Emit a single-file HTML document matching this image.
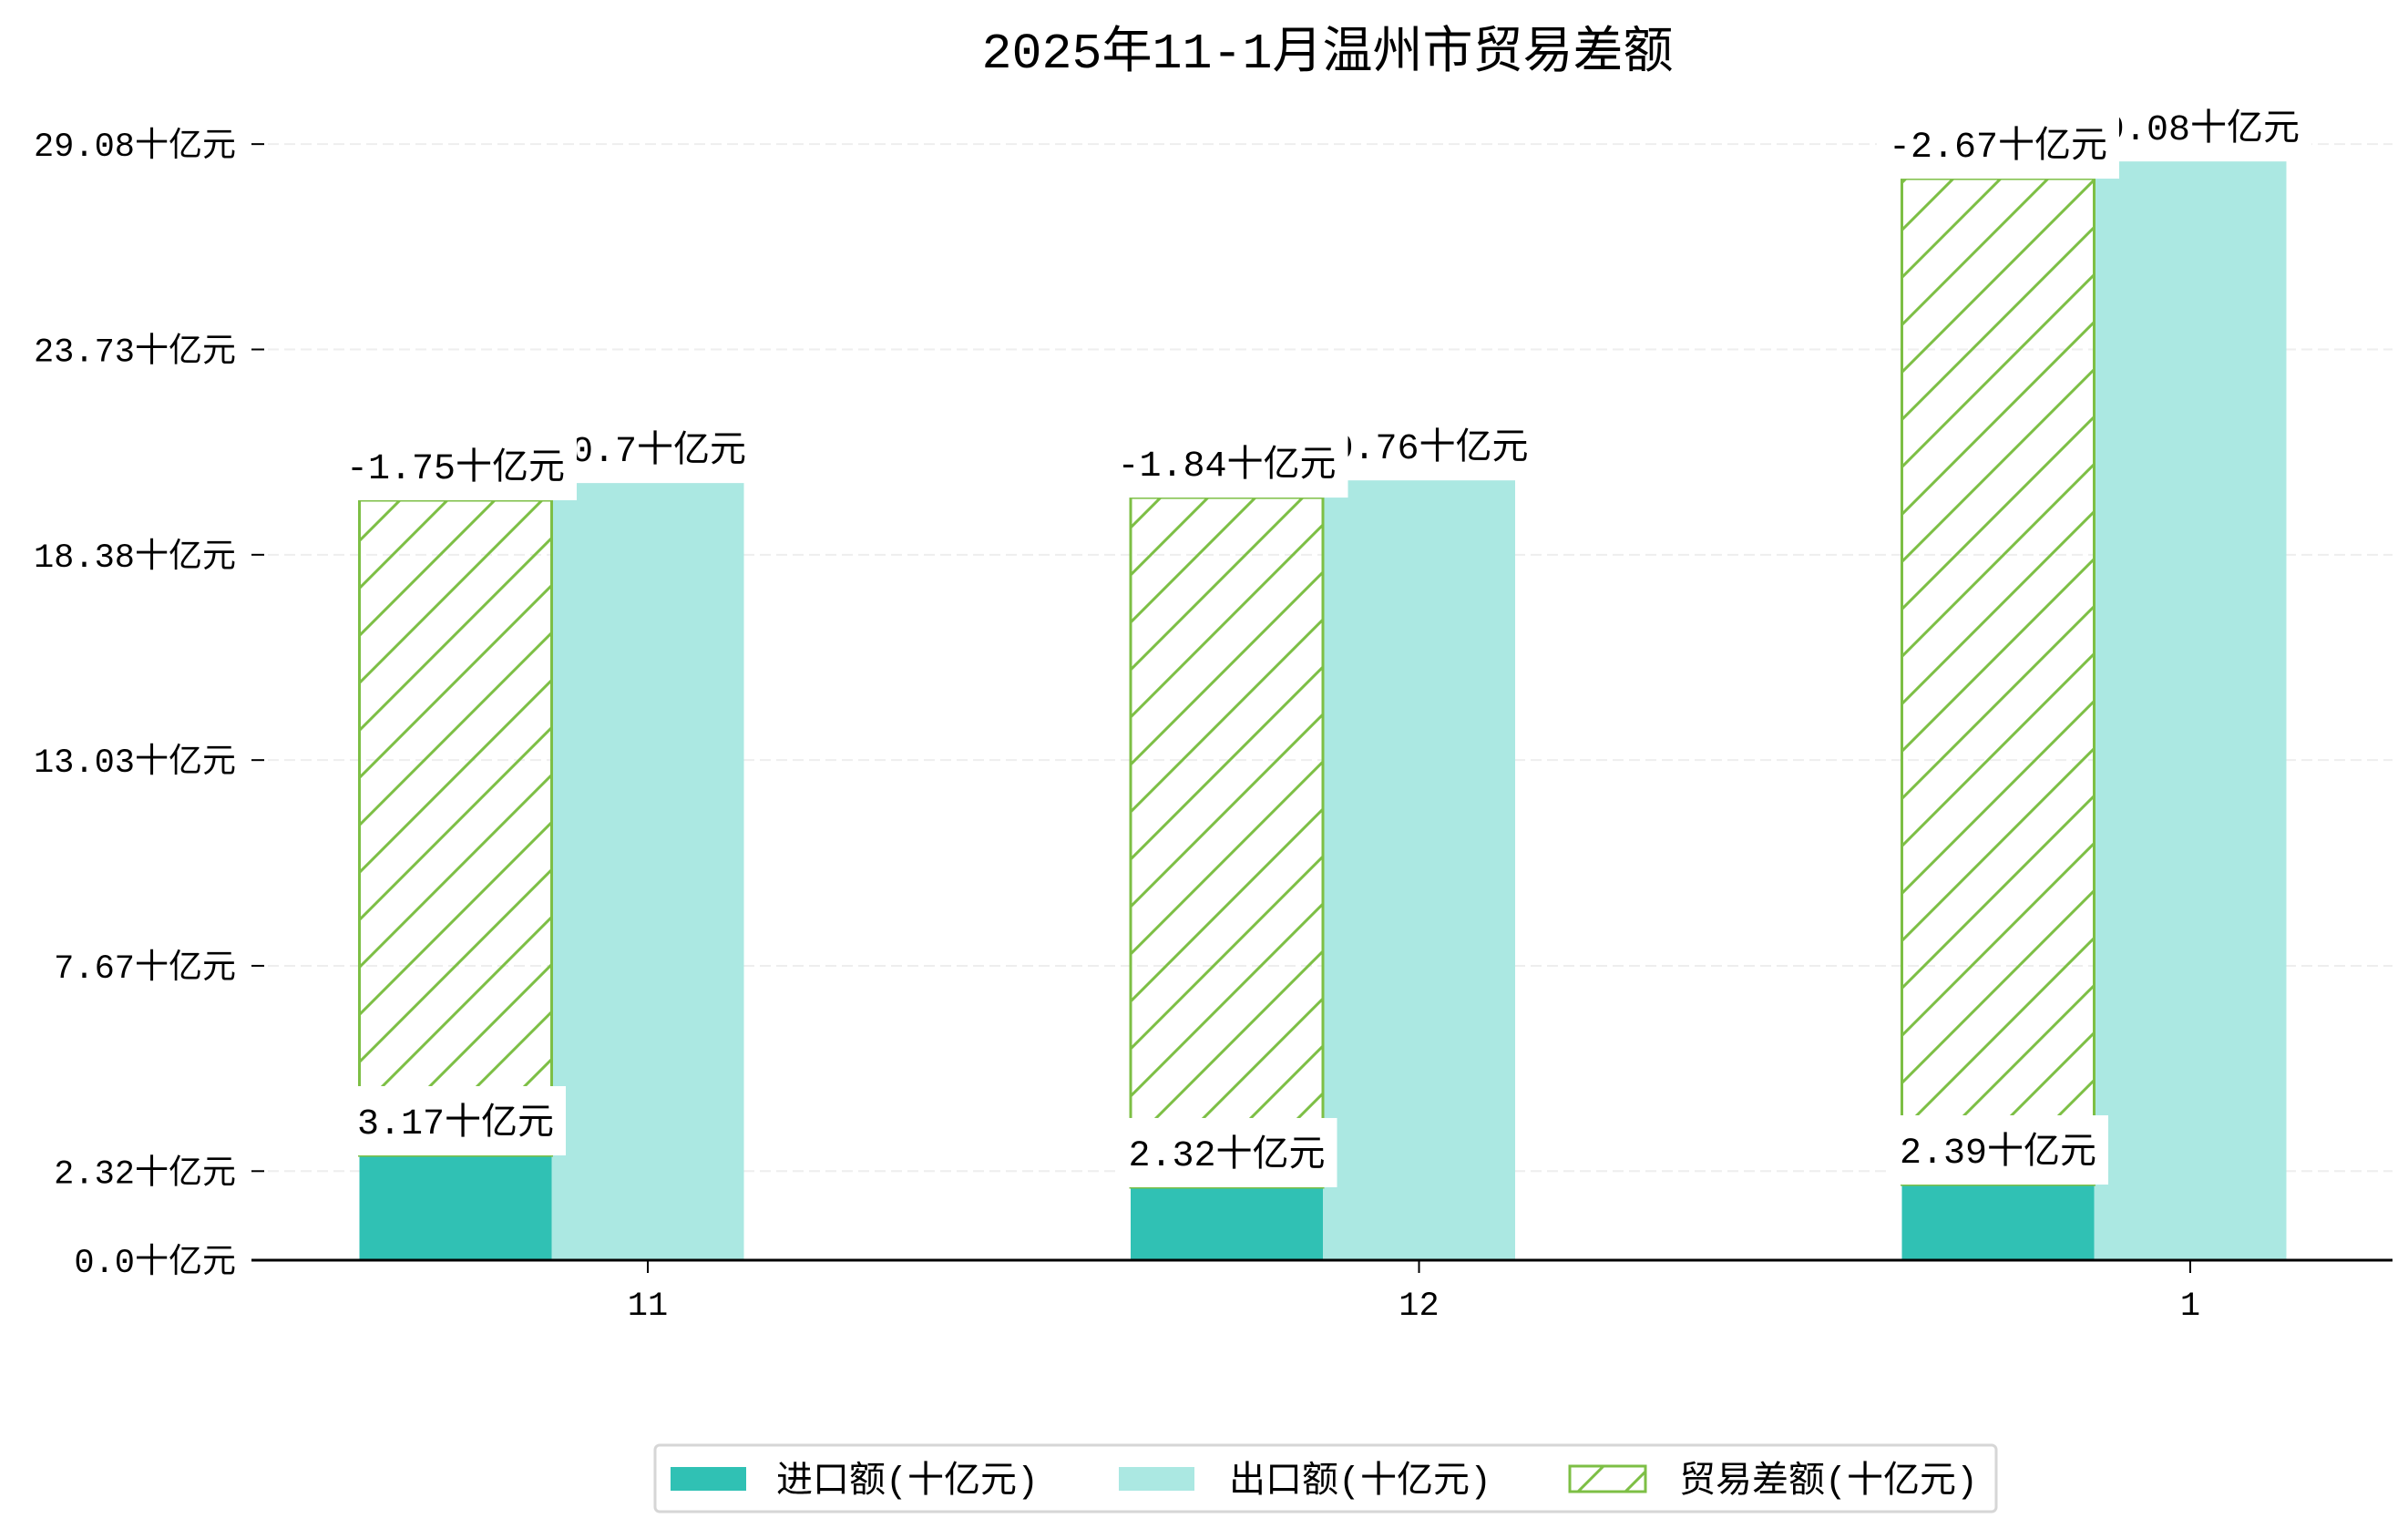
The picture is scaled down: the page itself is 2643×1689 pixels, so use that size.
<!DOCTYPE html>
<html><head><meta charset="utf-8"><style>
html,body{margin:0;padding:0;background:#fff}
svg{display:block}
text{font-family:"Liberation Mono","Noto Sans CJK SC",monospace}
</style></head><body>
<svg id="chart" width="2643" height="1689" viewBox="0 0 2643 1689" xmlns="http://www.w3.org/2000/svg">
<defs>
<pattern id="hatch" patternUnits="userSpaceOnUse" width="52" height="52">
<path d="M-13,13 L13,-13 M0,52 L52,0 M39,65 L65,39" stroke="#7dbf45" stroke-width="3"/>
</pattern>
</defs>
<text x="1457" y="74" font-size="55" text-anchor="middle" fill="#000">2025年11-1月温州市贸易差额</text>
<g id="grid"></g>
<g id="bars"></g>
<g id="labels"></g>
<line x1="276" y1="1383" x2="2626" y2="1383" stroke="#000" stroke-width="3"/>
<g id="axes"></g>
<g transform="translate(-3,-8)">
<rect x="722" y="1594" width="1472" height="73" rx="5" fill="#fff" stroke="#d6d6d6" stroke-width="3"/>
<rect x="739" y="1618" width="83" height="26" fill="#30c1b4"/>
<text x="855" y="1645" font-size="40">进口额(十亿元)</text>
<rect x="1231" y="1618" width="83" height="26" fill="#abe8e2"/>
<text x="1352" y="1645" font-size="40">出口额(十亿元)</text>
<rect x="1726" y="1617" width="83" height="28" fill="url(#hatch)" stroke="#7dbf45" stroke-width="3"/>
<text x="1846" y="1645" font-size="40">贸易差额(十亿元)</text>
</g>
</svg>
<script>
const categories = ["11", "12", "1"];
const importValues = [2.73, 1.90, 1.97];
const exportValues = [20.25, 20.32, 28.63];
const balanceValues = [17.07, 17.97, 26.21];
const importLabels = ["3.17十亿元", "2.32十亿元", "2.39十亿元"];
const exportLabels = ["20.7十亿元", "20.76十亿元", "29.08十亿元"];
const balanceLabels = ["-1.75十亿元", "-1.84十亿元", "-2.67十亿元"];
const yTicks = [0, 2.32, 7.67, 13.03, 18.38, 23.73, 29.08];
const yTickLabels = ["0.0十亿元", "2.32十亿元", "7.67十亿元", "13.03十亿元", "18.38十亿元", "23.73十亿元", "29.08十亿元"];

const NS = "http://www.w3.org/2000/svg";
const Y0 = 1383, K = 42.12;
function yScale(v){ return Y0 - v * K; }
const X0 = 711, STEP = 846.5;
function xScale(i){ return X0 + i * STEP; }
const BW = 211;
function mk(tag, attrs, parent){
  const e = document.createElementNS(NS, tag);
  for (const k in attrs) e.setAttribute(k, attrs[k]);
  parent.appendChild(e);
  return e;
}
const grid = document.getElementById('grid');
const axes = document.getElementById('axes');
const bars = document.getElementById('bars');
const labels = document.getElementById('labels');

yTicks.forEach((v, i) => {
  const y = yScale(v);
  if (v > 0) {
    const g = mk('line', {x1: 276, x2: 2626, y1: y, y2: y, stroke: '#eeeeee', 'stroke-width': 2, 'stroke-dasharray': '12,6'}, grid);
    
    
  }
  const t = mk('line', {x1: 276, x2: 290, y1: y, y2: y, stroke: '#000', 'stroke-width': 2}, axes);
  
  
  const l = mk('text', {x: 259, y: y + 13, 'font-size': 37, 'text-anchor': 'end'}, axes);
  l.textContent = yTickLabels[i];
  
  
});

categories.forEach((c, i) => {
  const cx = xScale(i);
  const t = mk('line', {x1: cx, x2: cx, y1: Y0, y2: Y0 + 14, stroke: '#000', 'stroke-width': 2}, axes);
  
  
  const l = mk('text', {x: cx, y: Y0 + 60, 'font-size': 37, 'text-anchor': 'middle'}, axes);
  l.textContent = c;
  
  

  const ix = cx - 1.5 * BW;
  const ex = cx - 0.5 * BW;
  const imp = mk('rect', {x: ix, y: yScale(importValues[i]), width: BW, height: Y0 - yScale(importValues[i]), fill: '#30c1b4'}, bars);
  
  
  const exp = mk('rect', {x: ex, y: yScale(exportValues[i]), width: BW, height: Y0 - yScale(exportValues[i]), fill: '#abe8e2'}, bars);
  
  
  const top = importValues[i] + balanceValues[i];
  const hb = mk('rect', {x: ix, y: yScale(top), width: BW, height: yScale(importValues[i]) - yScale(top), fill: 'url(#hatch)', stroke: '#7dbf45', 'stroke-width': 3}, bars);
  
  
});

function boxLabel(text, cx, bottom, name){
  const g = mk('g', {}, labels);
  
  
  const r = mk('rect', {fill: '#fff'}, g);
  const t = mk('text', {x: cx, y: bottom - 24, 'font-size': 40, 'text-anchor': 'middle'}, g);
  t.textContent = text;
  const w = t.getBBox().width + 26;
  r.setAttribute('x', cx - w / 2);
  r.setAttribute('y', bottom - 76);
  r.setAttribute('width', w);
  r.setAttribute('height', 76);
}
categories.forEach((c, i) => {
  boxLabel(exportLabels[i], xScale(i), yScale(exportValues[i]), 'export-value-label');
});
categories.forEach((c, i) => {
  boxLabel(balanceLabels[i], xScale(i) - BW, yScale(importValues[i] + balanceValues[i]), 'balance-value-label');
});
categories.forEach((c, i) => {
  boxLabel(importLabels[i], xScale(i) - BW, yScale(importValues[i]), 'import-value-label');
});
</script>
</body></html>
